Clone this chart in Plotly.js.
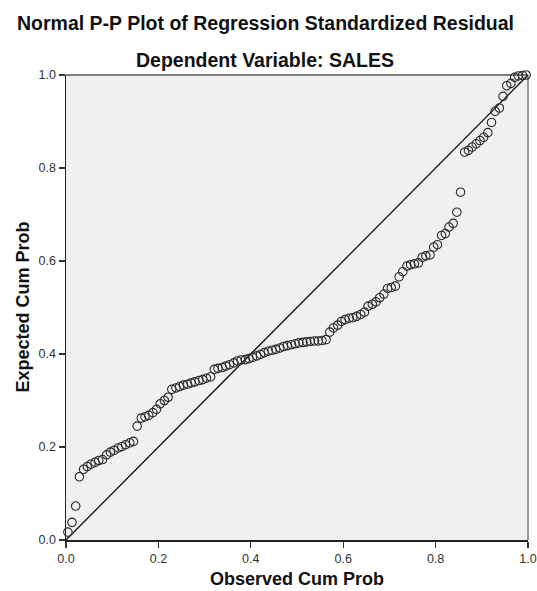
<!DOCTYPE html>
<html>
<head>
<meta charset="utf-8">
<script src="https://cdn.plot.ly/plotly-3.0.1.min.js"></script>
<style>
html,body{margin:0;padding:0;background:#fff;}
#chart{width:537px;height:591px;}
</style>
</head>
<body>
<div id="chart"></div>
<script>
// Observed cumulative probability (x) and expected cumulative probability (y)
var obsCum = [
0.004,0.013,0.021,0.029,0.038,0.046,0.054,0.063,0.071,0.079,
0.088,0.096,0.104,0.113,0.121,0.129,0.138,0.146,0.154,0.163,
0.171,0.179,0.188,0.196,0.204,0.213,0.221,0.229,0.238,0.246,
0.254,0.263,0.271,0.279,0.288,0.296,0.304,0.313,0.321,0.329,
0.338,0.346,0.354,0.363,0.371,0.379,0.388,0.396,0.404,0.413,
0.421,0.429,0.438,0.446,0.454,0.463,0.471,0.479,0.488,0.496,
0.504,0.513,0.521,0.529,0.538,0.546,0.554,0.563,0.571,0.579,
0.588,0.596,0.604,0.613,0.621,0.629,0.638,0.646,0.654,0.663,
0.671,0.679,0.688,0.696,0.704,0.713,0.721,0.729,0.738,0.746,
0.754,0.763,0.771,0.779,0.788,0.796,0.804,0.813,0.821,0.829,
0.838,0.846,0.854,0.863,0.871,0.879,0.888,0.896,0.904,0.913,
0.921,0.929,0.938,0.946,0.954,0.963,0.971,0.979,0.988,0.996];

var expCum = [
0.017,0.038,0.073,0.136,0.152,0.158,0.163,0.167,0.171,0.173,
0.183,0.189,0.193,0.198,0.201,0.205,0.209,0.212,0.245,0.262,
0.265,0.268,0.274,0.281,0.293,0.300,0.307,0.324,0.327,0.330,
0.333,0.335,0.338,0.340,0.343,0.345,0.348,0.351,0.367,0.369,
0.371,0.374,0.377,0.381,0.385,0.387,0.388,0.390,0.393,0.396,
0.399,0.403,0.406,0.408,0.410,0.413,0.416,0.418,0.420,0.422,
0.424,0.425,0.426,0.427,0.428,0.428,0.429,0.431,0.447,0.456,
0.462,0.470,0.474,0.477,0.478,0.481,0.485,0.490,0.503,0.507,
0.512,0.521,0.529,0.541,0.543,0.546,0.566,0.577,0.589,0.592,
0.594,0.596,0.608,0.611,0.613,0.630,0.635,0.655,0.659,0.673,
0.681,0.705,0.748,0.834,0.838,0.845,0.852,0.859,0.866,0.876,
0.898,0.922,0.929,0.954,0.977,0.982,0.995,0.998,0.999,1.000];

var refLineX = [0, 1];
var refLineY = [0, 1];
var tickValues = [0, 0.2, 0.4, 0.6, 0.8, 1.0];
var tickLabels = ["0.0", "0.2", "0.4", "0.6", "0.8", "1.0"];

var titleMain = "Normal P-P Plot of Regression Standardized Residual";
var titleSub = "Dependent Variable: SALES";
var xTitle = "Observed Cum Prob";
var yTitle = "Expected Cum Prob";

var traces = [
  {
    x: refLineX, y: refLineY, type: "scatter", mode: "lines",
    line: {color: "#111", width: 1.3}, hoverinfo: "skip", cliponaxis: false
  },
  {
    x: obsCum, y: expCum, type: "scatter", mode: "markers",
    marker: {symbol: "circle-open", size: 8.5, color: "#2a2a2a", line: {color: "#2a2a2a", width: 1.1}},
    cliponaxis: false
  }
];

var fontFam = "Liberation Sans, Arial, sans-serif";

var layout = {
  width: 537, height: 591,
  margin: {l: 66, r: 9, t: 75, b: 51, pad: 0},
  paper_bgcolor: "#ffffff",
  plot_bgcolor: "#f0f0f0",
  showlegend: false,
  font: {family: fontFam, color: "#333"},
  xaxis: {
    range: [0, 1], fixedrange: true,
    tickvals: tickValues, ticktext: tickLabels,
    ticks: "outside", ticklen: 6, tickwidth: 1.3, tickcolor: "#333",
    tickfont: {size: 12.5, color: "#333", family: fontFam},
    showgrid: false, zeroline: false,
    showline: true, linecolor: "#222", linewidth: 1.5
  },
  yaxis: {
    range: [0, 1], fixedrange: true,
    tickvals: tickValues, ticktext: tickLabels,
    ticks: "outside", ticklen: 6, tickwidth: 1.3, tickcolor: "#333",
    tickfont: {size: 12.5, color: "#333", family: fontFam},
    showgrid: false, zeroline: false,
    showline: true, linecolor: "#222", linewidth: 1.5
  },
  shapes: [
    {type: "line", xref: "paper", yref: "paper", x0: 0, x1: 1, y0: 1, y1: 1,
     line: {color: "#555", width: 1.5}, layer: "below"},
    {type: "line", xref: "paper", yref: "paper", x0: 1, x1: 1, y0: 0, y1: 1,
     line: {color: "#999", width: 2}, layer: "below"}
  ],
  annotations: [
    {text: titleMain, xref: "paper", yref: "paper", x: 0.431, y: (540 - 23) / 465,
     xanchor: "center", yanchor: "middle", showarrow: false,
     font: {size: 19.5, color: "#111", family: fontFam, weight: "bold"}},
    {text: titleSub, xref: "paper", yref: "paper", x: 0.431, y: (540 - 60) / 465,
     xanchor: "center", yanchor: "middle", showarrow: false,
     font: {size: 19.5, color: "#111", family: fontFam, weight: "bold"}},
    {text: "<b>" + xTitle + "</b>", xref: "paper", yref: "paper", x: 0.5, y: (540 - 579) / 465,
     xanchor: "center", yanchor: "middle", showarrow: false,
     font: {size: 18, color: "#111", family: fontFam}},
    {text: "<b>" + yTitle + "</b>", xref: "paper", yref: "paper", x: (22 - 66) / 462, y: 0.5,
     xanchor: "center", yanchor: "middle", showarrow: false, textangle: -90,
     font: {size: 18, color: "#111", family: fontFam}}
  ]
};

Plotly.newPlot("chart", traces, layout, {displayModeBar: false, staticPlot: true});
</script>
</body>
</html>
